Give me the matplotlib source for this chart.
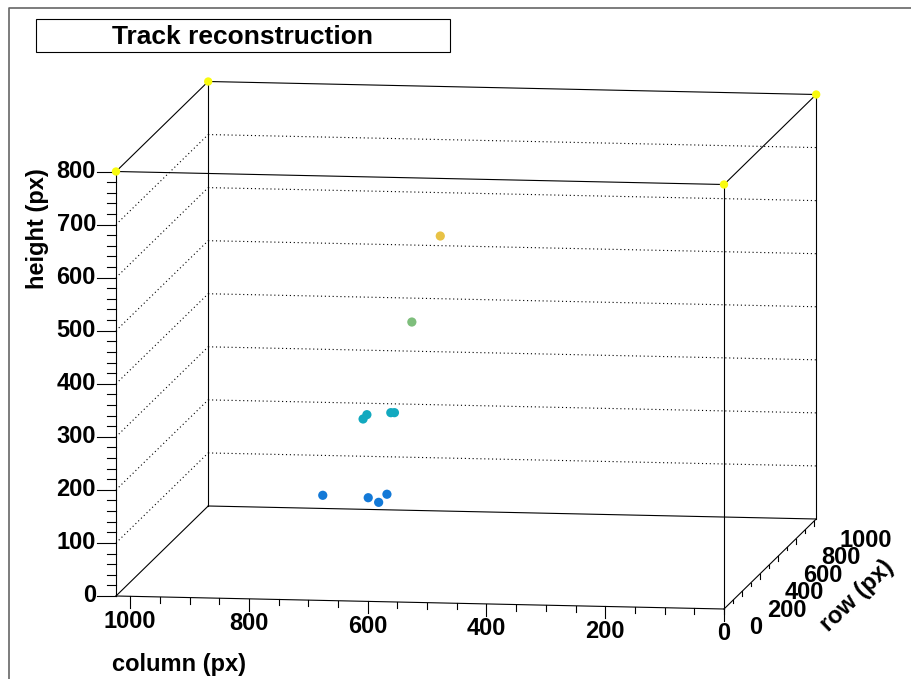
import numpy as np
import matplotlib
matplotlib.use("Agg")
import matplotlib.pyplot as plt
from matplotlib.colors import LinearSegmentedColormap

plt.rcParams['font.family'] = ['Liberation Sans', 'DejaVu Sans']

# hits of the track (column, row, height) in px
col = [692, 613, 588, 588, 620, 621, 585, 579, 560, 515]
row = [107, 91, 42, 134, 80, 129, 157, 158, 226, 245]
height = [180, 180, 180, 180, 330, 330, 330, 330, 490, 650]

# markers on the top corners of the frame
corner_col = [0, 1024, 0, 1024]
corner_row = [0, 0, 1024, 1024]
corner_h = [800, 800, 800, 800]

col_max, row_max, h_max = 1024, 1024, 800
col_ticks = [0, 200, 400, 600, 800, 1000]
row_ticks = [0, 200, 400, 600, 800, 1000]
h_ticks = [0, 100, 200, 300, 400, 500, 600, 700, 800]

# ROOT kBird palette
bird_r = [0.2082, 0.0592, 0.0780, 0.0232, 0.1802, 0.5301, 0.8186, 0.9956, 0.9764]
bird_g = [0.1664, 0.3599, 0.5041, 0.6419, 0.7178, 0.7492, 0.7328, 0.7862, 0.9832]
bird_b = [0.5293, 0.8684, 0.8385, 0.7914, 0.6425, 0.4662, 0.3499, 0.1968, 0.0539]
bird = LinearSegmentedColormap.from_list("bird", list(zip(bird_r, bird_g, bird_b)))


# simple fixed view of the box, result in canvas pixels
def proj(c, r, h):
    c = np.asarray(c, float) / col_max
    r = np.asarray(r, float) / row_max
    h = np.asarray(h, float) / h_max
    x = 724 - 608 * c + 92.2 * r
    y = 609 - 13 * c - 90 * r - 424.5 * h
    return x, y


def seg(p0, p1, **kw):
    x0, y0 = proj(*p0)
    x1, y1 = proj(*p1)
    ax.plot([x0, x1], [y0, y1], **kw)


fig = plt.figure(figsize=(9.12, 6.79), dpi=100)
ax = fig.add_axes([0, 0, 1, 1])
ax.set_xlim(0, 912)
ax.set_ylim(679, 0)
ax.axis("off")

# canvas border
ax.plot([9, 9, 912], [679, 7.5, 7.5], color="#666666", lw=1.2)

# title box
ax.add_patch(plt.Rectangle((36, 19), 414, 33, fill=False, ec="black", lw=0.8))
ax.text(243, 36.5, "Track reconstruction", ha="center", va="center",
        fontsize=19, fontweight="bold")

box = dict(color="black", lw=0.8)
grid = dict(color="black", lw=0.8, ls=(0, (1, 2.5)))

# grid on back and left walls
for h in h_ticks[1:-1]:
    seg((col_max, row_max, h), (0, row_max, h), **grid)
    seg((col_max, 0, h), (col_max, row_max, h), **grid)

# frame
C, R, H = col_max, row_max, h_max
seg((C, R, 0), (0, R, 0), **box)
seg((C, R, 0), (C, R, H), **box)
seg((0, R, 0), (0, R, H), **box)
seg((C, R, H), (0, R, H), **box)
seg((C, 0, 0), (C, R, 0), **box)
seg((C, 0, H), (C, R, H), **box)
seg((0, 0, H), (0, R, H), **box)
seg((0, 0, 0), (0, R, 0), **box)
seg((C, 0, 0), (0, 0, 0), **box)
seg((C, 0, 0), (C, 0, H), **box)
seg((0, 0, 0), (0, 0, H), **box)
seg((C, 0, H), (0, 0, H), **box)

# height axis
for h in range(0, h_max + 1, 20):
    x, y = proj(col_max, 0, h)
    ln = 19 if h % 100 == 0 else 9
    ax.plot([x - ln, x], [y, y], color="black", lw=0.8)
for h in h_ticks:
    x, y = proj(col_max, 0, h)
    ax.text(x - 20, y, str(h), ha="right", va="center", fontsize=17, fontweight="bold")

# column axis
for c in range(0, col_max + 1, 50):
    x, y = proj(c, 0, 0)
    ln = 12 if c % 200 == 0 else 6
    ax.plot([x, x], [y, y + ln], color="black", lw=0.8)
for c in col_ticks:
    x, y = proj(c, 0, 0)
    ax.text(x, y + 25, str(c), ha="center", va="center", fontsize=17, fontweight="bold")

# row axis
for r in range(0, row_max + 1, 100):
    x, y = proj(0, r, 0)
    ln = 5 if r % 200 == 0 else 3
    ax.plot([x, x], [y, y + ln], color="black", lw=0.8)
for r in row_ticks:
    x, y = proj(0, r, 0)
    ax.text(x + 25, y + 19, str(r), ha="left", va="center", fontsize=17, fontweight="bold")

ax.text(112, 665, "column (px)", ha="left", va="center", fontsize=17, fontweight="bold")
ax.text(38, 229, "height (px)", ha="center", va="center", rotation=90,
        fontsize=17, fontweight="bold")
ax.text(857, 596, "row (px)", ha="center", va="center", rotation=44,
        fontsize=17, fontweight="bold")

# points, coloured by height
px, py = proj(corner_col, corner_row, corner_h)
ax.scatter(px, py, c=corner_h, cmap=bird, vmin=0, vmax=h_max, s=36,
           edgecolors="none", zorder=5)
px, py = proj(col, row, height)
ax.scatter(px, py, c=height, cmap=bird, vmin=0, vmax=h_max, s=44,
           edgecolors="none", zorder=5)

fig.savefig("out.png", dpi=100)
